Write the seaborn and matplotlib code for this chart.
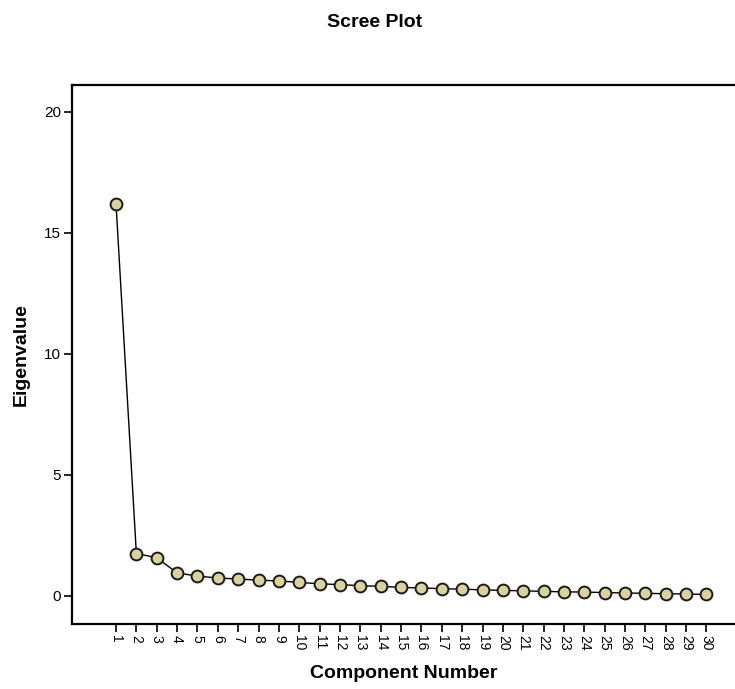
import numpy as np
import pandas as pd
import matplotlib
matplotlib.use("Agg")
import matplotlib.pyplot as plt
import seaborn as sns

# ===============================
# DATA
# ===============================
components = list(range(1, 31))
eigenvalues = [16.2, 1.75, 1.58, 0.95, 0.82, 0.74, 0.70, 0.65, 0.62, 0.56,
               0.50, 0.47, 0.42, 0.40, 0.35, 0.33, 0.30, 0.28, 0.25, 0.23,
               0.21, 0.19, 0.17, 0.16, 0.14, 0.12, 0.11, 0.09, 0.08, 0.06]
y_ticks = [0, 5, 10, 15, 20]

df = pd.DataFrame({"Component": components, "Eigenvalue": eigenvalues})

# ===============================
# PLOT
# ===============================
sns.set_style("white")
plt.rcParams["font.family"] = ["Liberation Sans", "DejaVu Sans"]
plt.rcParams["text.color"] = "black"
plt.rcParams["axes.labelcolor"] = "black"

fig = plt.figure(figsize=(7.35, 6.89), dpi=100)
ax = fig.add_axes([0.098, 0.0943, 0.902, 0.7823])

sns.lineplot(data=df, x="Component", y="Eigenvalue", ax=ax, color="black",
             linewidth=1.0, marker="o", markersize=8.5,
             markerfacecolor="#d9d29a", markeredgecolor="#1a1a1a",
             markeredgewidth=1.4)

ax.set_xlim(-1.16, 31.4)
ax.set_ylim(-1.16, 21.1)
ax.set_xticks(components)
ax.set_xticklabels([str(c) for c in components], rotation=-90, fontsize=10)
ax.set_yticks(y_ticks)
ax.set_yticklabels([str(t) for t in y_ticks], fontsize=11)
ax.tick_params(axis="both", direction="out", length=6, width=1.2,
               color="black", labelcolor="black", bottom=True, left=True, pad=2)

for side in ["left", "bottom", "top"]:
    ax.spines[side].set_visible(True)
    ax.spines[side].set_color("black")
    ax.spines[side].set_linewidth(1.6)
ax.spines["right"].set_visible(False)

ax.set_xlabel("Component Number", fontsize=14, fontweight="bold", labelpad=10)
ax.set_ylabel("Eigenvalue", fontsize=14, fontweight="bold", labelpad=10)
fig.text(0.51, 0.968, "Scree Plot", ha="center", va="center",
         fontsize=14, fontweight="bold")

fig.savefig("out.png", dpi=100)
